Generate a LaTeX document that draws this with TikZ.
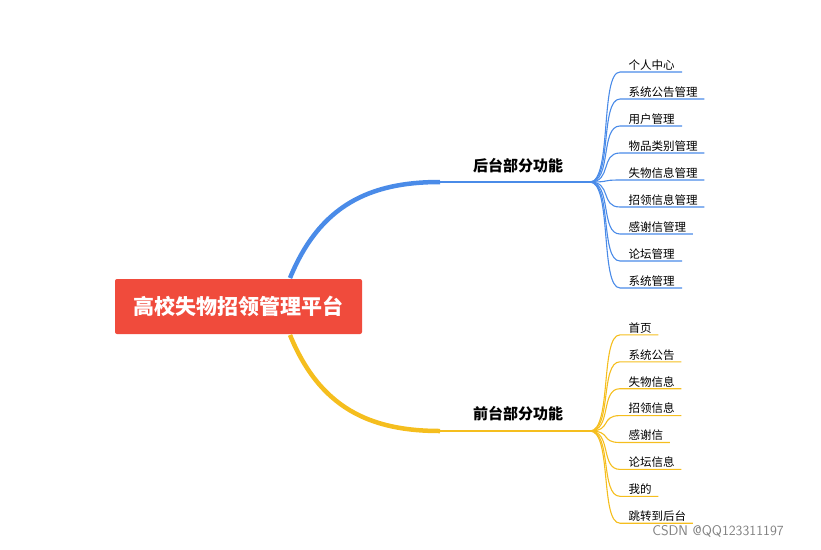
\documentclass[tikz,border=0pt]{standalone}
\usepackage{fontspec}
\newfontfamily\cjk{Noto Sans CJK SC}
\usetikzlibrary{calc}
\definecolor{rootred}{HTML}{F04B3C}
\definecolor{backblue}{HTML}{4A8BE8}
\definecolor{frontyellow}{HTML}{F5BE1E}
\tikzset{
  leaf/.style={anchor=south west, inner sep=1.5pt, font=\cjk\fontsize{11.5}{13}\selectfont},
  branchlabel/.style={font=\cjk\bfseries\fontsize{15}{17}\selectfont}
}
\begin{document}
\begin{tikzpicture}[x=1pt,y=-1pt]
\useasboundingbox (0,0) rectangle (821,549);
    % Central topic
    \node[fill=rootred, rounded corners=2pt, minimum width=247pt, minimum height=55pt, text=white,
          font=\cjk\bfseries\fontsize{21}{24}\selectfont] (root) at (238.5,306.5) {高校失物招领管理平台};

    % Back-end branch
    \coordinate (bA) at (290,278);
    \coordinate (bB) at (590,182);
    \draw[backblue, line width=4.5pt] (bA) .. controls (320,205) and (370,182) .. (440,182);
    \draw[backblue, line width=1.8pt] (440,182) -- (bB);
    \node[branchlabel] (back) at (518,166) {后台部分功能};

    % Front-end branch
    \coordinate (fA) at (290,335);
    \coordinate (fB) at (590,431);
    \draw[frontyellow, line width=4.5pt] (fA) .. controls (320,408) and (370,431) .. (440,431);
    \draw[frontyellow, line width=1.8pt] (440,431) -- (fB);
    \node[branchlabel] (front) at (518,414) {前台部分功能};

    % Back-end leaves
    \foreach \txt [count=\i] in {个人中心,系统公告管理,用户管理,物品类别管理,失物信息管理,招领信息管理,感谢信管理,论坛管理,系统管理} {
        \pgfmathsetmacro{\yy}{45+27*\i}
        \node[leaf] (b\i) at (627,\yy) {\txt};
        \draw[backblue, line width=1.1pt] (bB) .. controls (612,182) and (600,\yy) .. (620,\yy) -- (682,\yy) -- ($(b\i.south east)+(5,0)$);
    }

    % Front-end leaves
    \foreach \txt [count=\i] in {首页,系统公告,失物信息,招领信息,感谢信,论坛信息,我的,跳转到后台} {
        \pgfmathsetmacro{\yy}{308+26.9*\i}
        \node[leaf] (f\i) at (627,\yy) {\txt};
        \draw[frontyellow, line width=1.1pt] (fB) .. controls (612,431) and (600,\yy) .. (620,\yy) -- ($(f\i.south east)+(5,0)$);
    }

    % Watermark
    \node[text=gray, font=\fontsize{14}{16}\selectfont\sffamily] (mark) at (718,531) {CSDN @QQ123311197};
\end{tikzpicture}
\end{document}
